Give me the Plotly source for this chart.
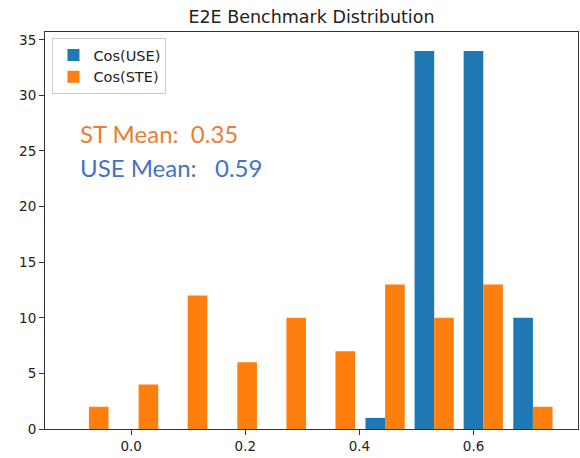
import plotly.graph_objects as go

# bin centres of the histogram and counts per bin
bin_centers = [-0.074, 0.013, 0.099, 0.186, 0.272, 0.358, 0.445, 0.531, 0.617, 0.704]
use_counts = [0, 0, 0, 0, 0, 0, 1, 34, 34, 10]
ste_counts = [2, 4, 12, 6, 10, 7, 13, 10, 13, 2]

x_ticks = [0.0, 0.2, 0.4, 0.6]
y_ticks = [0, 5, 10, 15, 20, 25, 30, 35]

st_mean = 0.35
use_mean = 0.59

fig = go.Figure()
fig.add_trace(go.Bar(x=bin_centers, y=use_counts, name="Cos(USE)",
                     marker=dict(color="#1f77b4", line_width=0)))
fig.add_trace(go.Bar(x=bin_centers, y=ste_counts, name="Cos(STE)",
                     marker=dict(color="#ff7f0e", line_width=0)))

_AX = dict(showline=True, linecolor="#333", linewidth=1, mirror=True,
           ticks="outside", ticklen=5, tickcolor="#333", showgrid=False,
           zeroline=False, tickfont=dict(family="DejaVu Sans", size=13.5, color="#222"))

fig.update_layout(
    width=580, height=458,
    margin=dict(l=45, r=2, t=32, b=29),
    paper_bgcolor="white", plot_bgcolor="white",
    barmode="group", bargap=0.2, bargroupgap=0,
    title=dict(text="E2E Benchmark Distribution", x=0.537, xanchor="center",
               y=0.963, yanchor="middle",
               font=dict(family="DejaVu Sans", size=17.5, color="#222")),
    xaxis=dict(range=[-0.151, 0.783], tickvals=x_ticks, tickformat=".1f", **_AX),
    yaxis=dict(range=[0, 35.7], tickvals=y_ticks, **_AX),
    legend=dict(x=0.014, y=0.985, xanchor="left", yanchor="top",
                bgcolor="rgba(255,255,255,0.8)", bordercolor="#ccc", borderwidth=1,
                font=dict(family="DejaVu Sans", size=14.5, color="#222"),
                itemwidth=30, tracegroupgap=2),
    showlegend=True,
)

fig.add_annotation(xref="paper", yref="paper", x=0.0615, y=0.744,
                   xanchor="left", yanchor="middle", showarrow=False,
                   text=f"ST Mean:  {st_mean:.2f}",
                   font=dict(family="Lato", size=24, color="#ed7d31"))
fig.add_annotation(xref="paper", yref="paper", x=0.0615, y=0.658,
                   xanchor="left", yanchor="middle", showarrow=False,
                   text=f"USE Mean:   {use_mean:.2f}",
                   font=dict(family="Lato", size=24, color="#4472c4"))

fig.write_html("out.html", config={"displayModeBar": False},
               post_script="document.body.style.margin='0px';")
